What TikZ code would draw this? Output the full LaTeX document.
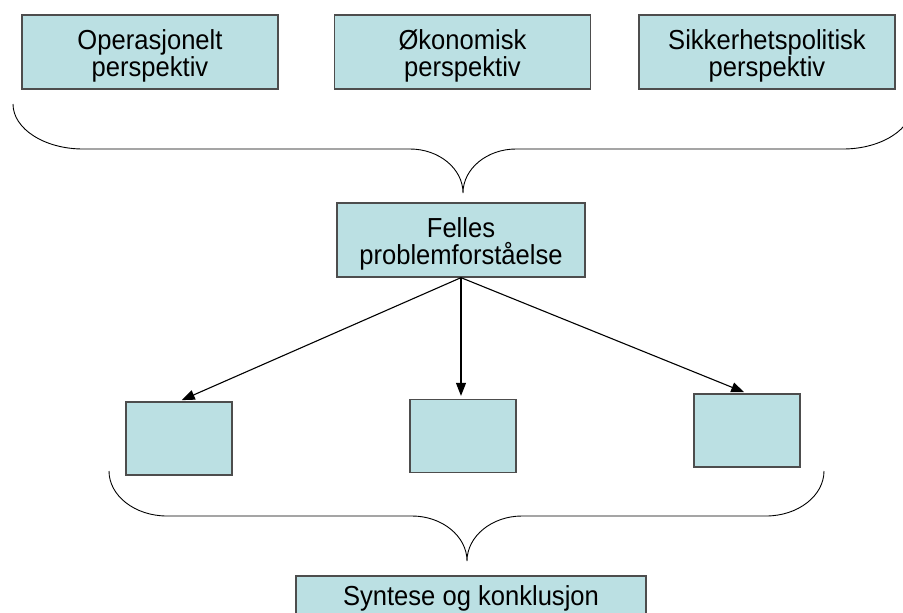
\documentclass[tikz,border=0pt]{standalone}
\usepackage{fontspec}
\setmainfont{Liberation Sans}[FakeStretch=0.93]
\usetikzlibrary{arrows.meta, positioning}
\definecolor{boxfill}{HTML}{BBE0E3}
\definecolor{boxline}{HTML}{4D4D4D}
\tikzstyle{persp} = [rectangle, draw=boxline, fill=boxfill, line width=1.3pt, inner sep=0, align=center,
                     minimum width=256pt, minimum height=74pt, font=\fontsize{27.5}{27.5}\selectfont]
\tikzstyle{twoline} = [execute at begin node={\rule{0pt}{55pt}}]
\tikzstyle{emptybox} = [rectangle, draw=boxline, fill=boxfill, line width=1.3pt, minimum width=106pt, minimum height=73pt]
\tikzstyle{brace} = [line width=0.9pt]
\tikzstyle{flow} = [-{Triangle[length=13pt,width=10pt]}, line width=1.1pt, shorten >=3pt]

\begin{document}
\begin{tikzpicture}[x=1pt, y=-1pt]
	\useasboundingbox (0,0) rectangle (903,613);
	\clip (0,0) rectangle (903,613);

	% perspectives
	\node (Oper) [persp, twoline] at (150,52) {Operasjonelt\\perspektiv};
	\node (Okon) [persp, twoline] at (462.5,52) {Økonomisk\\perspektiv};
	\node (Sikk) [persp, twoline] at (767,52) {Sikkerhetspolitisk\\perspektiv};

	% upper brace
	\draw[brace] (13,104) .. controls (13,128.8) and (44.4,149) .. (83,149) -- (410,149)
		.. controls (439,149) and (463,168.7) .. (463,193)
		.. controls (463,168.7) and (487,149) .. (516,149) -- (843,149)
		.. controls (881.6,149) and (913,128.8) .. (913,104);

	\node (Felles) [persp, twoline, minimum width=248pt] at (461,240) {Felles\\problemforståelse};

	% three parts
	\node (PartA) [emptybox] at (179,438.5) {};
	\node (PartB) [emptybox] at (463,436) {};
	\node (PartC) [emptybox] at (747,430.5) {};
	\draw[flow] (Felles.south) -- (PartA.north);
	\draw[flow] (Felles.south) -- (Felles.south |- PartB.north);
	\draw[flow] (Felles.south) -- (PartC.north);

	% lower brace
	\draw[brace] (109,471) .. controls (109,495.8) and (135,516) .. (167,516) -- (412,516)
		.. controls (442,516) and (467,536.2) .. (467,561)
		.. controls (467,536.2) and (492,516) .. (522,516) -- (766,516)
		.. controls (798,516) and (824,495.8) .. (824,471);

	\node (Synt) [persp, minimum width=350pt, minimum height=44.8pt] at (471,598.4) {Syntese og konklusjon};
\end{tikzpicture}
\end{document}
